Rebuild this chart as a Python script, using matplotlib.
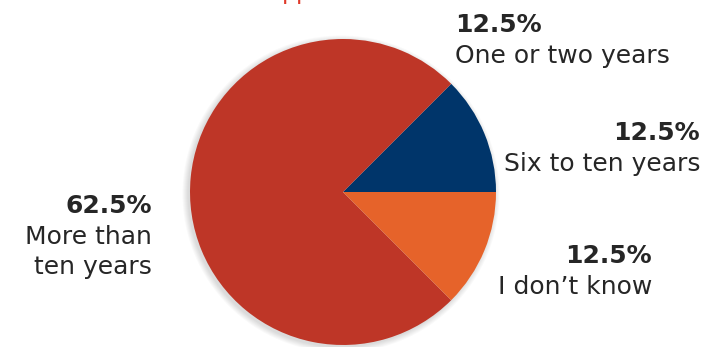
import matplotlib.pyplot as plt
from matplotlib.patches import Circle

# Time spent in role, share of respondents
labels = ["Six to ten years", "One or two years", "More than\nten years", "I don\u2019t know"]
shares = [12.5, 12.5, 62.5, 12.5]
colors = ["#00356A", "#BE3627", "#BE3627", "#E6632A"]

W, H = 719, 347
fig = plt.figure(figsize=(W / 100, H / 100), dpi=100)
ax = fig.add_axes([0, 0, 1, 1])

cx, cy, r = 343, H - 192, 153

# soft drop shadow under the pie, pushed slightly down and left
for k in range(6):
    ax.add_patch(Circle((cx - 2, cy - 2), r + 0.5 + k, color="#000000",
                        alpha=0.022, lw=0, zorder=0))

ax.pie(shares, colors=colors, startangle=0, counterclock=True,
       center=(cx, cy), radius=r, frame=True,
       wedgeprops=dict(linewidth=0, antialiased=True))
ax.set_xlim(0, W)
ax.set_ylim(0, H)
ax.set_aspect("equal")
ax.axis("off")

font = "DejaVu Sans"
txt = "#262626"
pos = [
    (700, 140, "right"),   # Six to ten years
    (455, 32, "left"),     # One or two years
    (152, 213, "right"),   # More than ten years
    (652, 263, "right"),   # I don't know
]
for (x, y, ha), lab, v in zip(pos, labels, shares):
    ax.text(x, H - y, f"{v}%", ha=ha, va="baseline", fontsize=18,
            fontweight="bold", color=txt, family=font)
    ax.text(x, H - y - 12, lab, ha=ha, va="top", fontsize=18,
            color=txt, family=font, linespacing=1.3)

# title line sitting just above the top edge
ax.text(297, H + 1, "pp", ha="center", va="baseline", fontsize=17,
        color="#E03A2A", family=font, clip_on=False)

fig.savefig("out.png", dpi=100)
